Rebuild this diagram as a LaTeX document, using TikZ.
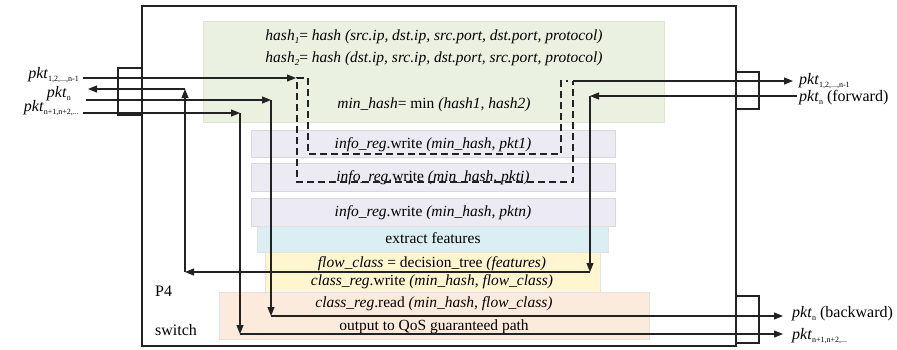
\documentclass[tikz,border=0pt]{standalone}
\usepackage{fontspec}
\setmainfont{Liberation Serif}
\usetikzlibrary{arrows.meta}
\definecolor{greenbg}{HTML}{EAF1E0}
\definecolor{greenbd}{HTML}{DCE5CF}
\definecolor{purplebg}{HTML}{ECEAF2}
\definecolor{purplebd}{HTML}{D9D8DE}
\definecolor{cyanbg}{HTML}{DBEEF3}
\definecolor{yellowbg}{HTML}{FFF5CE}
\definecolor{orangebg}{HTML}{FCEBDC}
\definecolor{panelbd}{HTML}{E2E2E2}
\definecolor{linecol}{HTML}{222222}
\newcommand{\sbs}[1]{\raisebox{-3pt}{\fontsize{8}{8}\selectfont #1}}
\newcommand{\isub}[1]{\raisebox{-3pt}{\fontsize{9}{9}\selectfont\itshape #1}}
\begin{document}
\begin{tikzpicture}[x=1pt,y=-1pt,
  panel/.style={draw=panelbd, line width=0.8pt, inner sep=0, outer sep=0, anchor=north west},
  frame/.style={draw=linecol, line width=1.3pt, inner sep=0, outer sep=0, anchor=north west},
  port/.style={draw=linecol, line width=1.1pt, inner sep=0, outer sep=0, anchor=north west},
  txt/.style={font=\fontsize{15.5}{18}\selectfont, inner sep=0, anchor=base},
  lbl/.style={font=\fontsize{16}{18}\selectfont, inner sep=0},
  arr/.style={draw=linecol, line width=1.1pt, -{Triangle[length=9pt,width=7pt]}},
  dsh/.style={draw=linecol, line width=1.1pt, dash pattern=on 7pt off 4pt},
  pln/.style={draw=linecol, line width=1.1pt}]
\useasboundingbox (0,0) rectangle (897,349);

% main switch frame and ports
\node[frame, minimum width=594, minimum height=340] (sw) at (142,6) {};
\node[port, minimum width=24, minimum height=47] (lport) at (118,68) {};
\node[port, minimum width=23, minimum height=37] (rport1) at (736,72) {};
\node[port, minimum width=23, minimum height=47] (rport2) at (736,296) {};

% panels
\node[panel, draw=greenbd, fill=greenbg, minimum width=461, minimum height=101] (green) at (203,21) {};
\node[panel, draw=purplebd, fill=purplebg, minimum width=364, minimum height=27] (p1) at (251,130) {};
\node[panel, draw=purplebd, fill=purplebg, minimum width=364, minimum height=28] (p2) at (251,163) {};
\node[panel, draw=purplebd, fill=purplebg, minimum width=364, minimum height=28] (p3) at (251,198) {};
\node[panel, fill=cyanbg, minimum width=351, minimum height=26] (cy) at (257,226) {};
\node[panel, fill=yellowbg, minimum width=335, minimum height=40] (ye) at (265,252) {};
\node[panel, fill=orangebg, minimum width=430, minimum height=47] (or) at (219,292) {};

% texts
\node[txt] (t1) at (434,40) {\itshape hash\isub{1}\upshape= \itshape hash (src.ip, dst.ip, src.port, dst.port, protocol)};
\node[txt] (t2) at (434,62) {\itshape hash\isub{2}\upshape= \itshape hash (dst.ip, src.ip, dst.port, src.port, protocol)};
\node[txt] (t3) at (434,108) {\textit{min\_hash}= min \textit{(hash1, hash2)}};
\node[txt] (t4) at (433,148) {\textit{info\_reg}.write \textit{(min\_hash, pkt1)}};
\node[txt] (t5) at (433,181) {\textit{info\_reg}.write \textit{(min\_hash, pkti)}};
\node[txt] (t6) at (433,216) {\textit{info\_reg}.write \textit{(min\_hash, pktn)}};
\node[txt] (t7) at (433,243) {extract features};
\node[txt] (t8) at (432,267) {\textit{flow\_class} = decision\_tree \textit{(features)}};
\node[txt] (t9) at (432,285) {\textit{class\_reg}.write \textit{(min\_hash, flow\_class)}};
\node[txt] (t10) at (434,307) {\textit{class\_reg}.read \textit{(min\_hash, flow\_class)}};
\node[txt] (t11) at (434,330) {output to QoS guaranteed path};
\node[lbl, anchor=base west] (p4) at (155,296) {P4};
\node[lbl, anchor=base west] (swl) at (155,335) {switch};

% outer labels
\node[lbl, anchor=base east] (inA) at (79,78) {\textit{pkt}\sbs{1,2,...,n-1}};
\node[lbl, anchor=base east] (outL) at (71,97) {\textit{pkt}\sbs{n}};
\node[lbl, anchor=base east] (inB) at (79,111) {\textit{pkt}\sbs{n+1,n+2,...}};
\node[lbl, anchor=base west] (outA) at (799,84) {\textit{pkt}\sbs{1,2,...,n-1}};
\node[lbl, anchor=base west] (inF) at (799,101) {\textit{pkt}\sbs{n} (forward)};
\node[lbl, anchor=base west] (outBk) at (792,317) {\textit{pkt}\sbs{n} (backward)};
\node[lbl, anchor=base west] (outB) at (792,339) {\textit{pkt}\sbs{n+1,n+2,...}};

% coordinates
\coordinate (a0) at (83,78);   \coordinate (a1) at (296,78);
\coordinate (d1) at (304,78);  \coordinate (d2) at (297,78);
\coordinate (d3) at (297,182); \coordinate (d4) at (573,182);
\coordinate (d5) at (573,81);
\coordinate (e1) at (308,78);  \coordinate (e2) at (308,154);
\coordinate (e3) at (561,154); \coordinate (e4) at (561,81);
\coordinate (e5) at (568,81);
\coordinate (o1) at (793,81);
\coordinate (f0) at (797,96);  \coordinate (f1) at (590,96);
\coordinate (f2) at (590,272); \coordinate (f3) at (185,272);
\coordinate (f4) at (185,89);  \coordinate (f5) at (88,89);
\coordinate (b0) at (86,100);  \coordinate (b1) at (271,100);
\coordinate (b2) at (271,316); \coordinate (b3) at (783,316);
\coordinate (c0) at (83,113);  \coordinate (c1) at (240,113);
\coordinate (c2) at (240,334); \coordinate (c3) at (783,334);

% pkt 1..n-1 path
\draw[arr] (a0) -- (a1);
\draw[dsh] (d1) -- (d2) -- (d3) -- (d4) -- (d5);
\draw[dsh] (e1) -- (e2) -- (e3) -- (e4) -- (e5);
\draw[arr] (d5) -- (o1);
% pkt n forward path
\draw[arr] (f0) -- (f1);
\draw[arr] (f1) -- (f2);
\draw[arr] (f2) -- (f3);
\draw[arr] (f3) -- (f4);
\draw[arr] (f4) -- (f5);
% pkt n backward
\draw[arr] (b0) -- (b1);
\draw[arr] (b1) -- (b2);
\draw[arr] (b2) -- (b3);
% pkt n+1...
\draw[arr] (c0) -- (c1);
\draw[arr] (c1) -- (c2);
\draw[arr] (c2) -- (c3);
\end{tikzpicture}
\end{document}
